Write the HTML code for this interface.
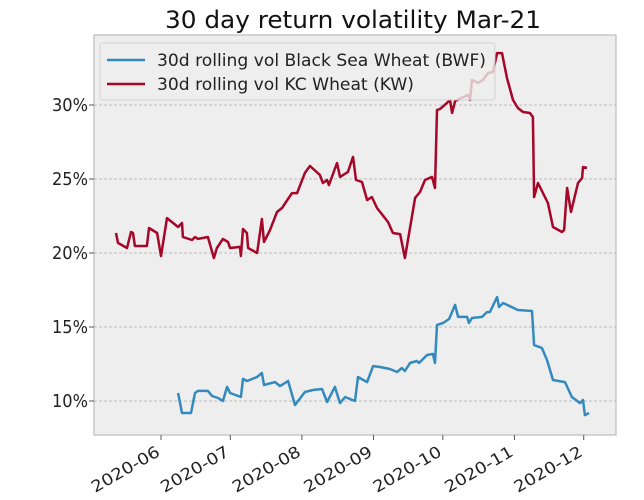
<!DOCTYPE html>
<html><head><meta charset="utf-8"><style>
body{margin:0;background:#fff;}
svg{display:block;font-family:"DejaVu Sans","Liberation Sans",sans-serif;}
</style></head><body>
<svg id="chart" width="644" height="500" viewBox="0 0 644 500" xmlns="http://www.w3.org/2000/svg">
<text x="165" y="28" font-size="24" textLength="376" lengthAdjust="spacingAndGlyphs" fill="#111">30 day return volatility Mar-21</text>
<rect x="94" y="35" width="522" height="400" fill="#eeeeee" stroke="#bcbcbc" stroke-width="1.2"/>
<g id="grid"></g><g id="yticks"></g><g id="xticks"></g><g id="series"></g>
<g id="legend">
<rect x="100" y="43" width="395" height="57" rx="3" fill="#eeeeee" fill-opacity="0.8" stroke="#cccccc" stroke-opacity="0.8"/>
<line x1="107" y1="60" x2="145" y2="60" stroke="#348ABD" stroke-width="2.5"/>
<text x="157" y="66" font-size="17" textLength="329" lengthAdjust="spacingAndGlyphs" fill="#222">30d rolling vol Black Sea Wheat (BWF)</text>
<line x1="107" y1="84" x2="145" y2="84" stroke="#A60628" stroke-width="2.5"/>
<text x="157" y="90" font-size="17" textLength="257" lengthAdjust="spacingAndGlyphs" fill="#222">30d rolling vol KC Wheat (KW)</text>
</g>
</svg>
<script>
// day offsets from 2020-06-01 and values (%)
const kwDays=[-19.5,-18.6,-14.7,-13.0,-12.1,-11.3,-6.1,-5.2,-1.7,0,2.6,7.4,9.1,9.5,13.4,14.7,16.0,20.3,22.9,24.2,26.8,29.0,29.9,34.2,34.6,35.5,37.2,37.7,41.6,43.7,44.6,47.2,50.2,52.4,56.7,58.9,62.3,64.5,68.8,70.1,71.9,72.7,76.2,77.5,80.9,83.1,84.4,87.0,89.2,91.3,93.5,98.3,100.4,103.5,105.6,110.0,112.1,114.3,117.3,118.6,119.5,120.8,123.8,125.1,126.0,127.3,132.9,133.8,134.6,137.2,139.4,141.6,143.7,145.5,147.6,149.8,152.4,154.5,156.7,159.7,161.0,161.5,163.2,167.5,169.7,173.6,174.5,175.8,177.5,180.5,182.3,182.7,184.4];
const kwVals=[21.35,20.68,20.34,21.42,21.35,20.47,20.47,21.69,21.35,19.8,22.36,21.76,22.03,21.08,20.88,21.08,20.95,21.08,19.66,20.34,20.95,20.74,20.34,20.41,19.8,21.62,21.35,20.34,20.0,22.3,20.74,21.55,22.77,23.04,24.05,24.05,25.41,25.88,25.27,24.73,24.93,24.59,26.08,25.14,25.47,26.49,24.93,24.8,23.58,23.78,23.04,22.09,21.35,21.28,19.66,23.72,24.12,24.93,25.14,24.39,29.66,29.73,30.14,30.34,29.46,30.27,30.68,30.34,31.69,31.49,31.69,32.16,32.23,33.51,33.51,31.82,30.34,29.8,29.53,29.46,29.19,23.78,24.73,23.38,21.76,21.42,21.55,24.39,22.77,24.73,25.07,25.81,25.74];
const bwfDays=[7.4,9.1,13.0,14.7,16.0,20.3,22.1,24.7,26.8,28.6,29.9,34.6,35.5,37.2,41.6,43.7,44.6,49.4,51.5,55.0,58.0,62.3,65.8,69.7,71.9,75.3,77.5,79.7,84.0,85.3,89.2,91.8,94.8,99.1,102.2,104.3,105.6,107.8,110.8,111.7,115.2,117.7,118.6,119.5,122.1,124.7,127.3,128.6,132.5,133.3,134.6,139.0,141.1,142.4,145.5,146.3,148.1,154.5,160.6,161.5,164.9,167.1,169.7,174.9,177.9,181.4,182.7,183.5,185.3];
const bwfVals=[10.54,9.19,9.19,10.54,10.68,10.68,10.34,10.2,10.0,10.95,10.54,10.27,11.49,11.35,11.62,11.89,11.08,11.28,11.01,11.35,9.73,10.61,10.74,10.81,9.93,10.95,9.86,10.27,10.0,11.62,11.28,12.36,12.3,12.16,11.96,12.23,12.03,12.57,12.7,12.57,13.11,13.18,12.57,15.14,15.27,15.54,16.49,15.68,15.68,15.27,15.61,15.68,16.01,16.01,17.03,16.35,16.62,16.15,16.08,13.78,13.58,12.77,11.42,11.28,10.27,9.86,10.07,9.05,9.19];
const yTicks=[10,15,20,25,30];
const xTickLabels=["2020-06","2020-07","2020-08","2020-09","2020-10","2020-11","2020-12"];
const xTickDays=[0,30,61,92,122,153,183];

const NS="http://www.w3.org/2000/svg";
const X=d=>161+d*2.31;
const Y=v=>401-(v-10)*14.8;
function mk(tag,attrs,parent){const e=document.createElementNS(NS,tag);for(const k in attrs)e.setAttribute(k,attrs[k]);parent.appendChild(e);return e;}
const grid=document.getElementById('grid'),yt=document.getElementById('yticks'),xt=document.getElementById('xticks'),ser=document.getElementById('series');
yTicks.forEach(v=>{
  const g=mk('line',{x1:94,x2:616,y1:Y(v),y2:Y(v),stroke:'#b0b0b0','stroke-width':0.8,'stroke-dasharray':'3,2'},grid);
  
  
  const t=mk('line',{x1:89,x2:94,y1:Y(v),y2:Y(v),stroke:'#555','stroke-width':1},yt);
  
  
  const l=mk('text',{x:88,y:Y(v)+6,'font-size':18,'text-anchor':'end',textLength:36,lengthAdjust:'spacingAndGlyphs',fill:'#222'},yt);
  
  
  l.textContent=v+'%';
});
xTickDays.forEach((d,i)=>{
  const x=X(d);
  const t=mk('line',{x1:x,x2:x,y1:435,y2:440,stroke:'#555','stroke-width':1},xt);
  
  
  const l=mk('text',{x:x,y:455,'font-size':16,'text-anchor':'end',textLength:76,lengthAdjust:'spacingAndGlyphs',fill:'#222',transform:`rotate(-30 ${x} 455)`},xt);
  
  
  l.textContent=xTickLabels[i];
});
function line(days,vals,color,name){
  const p=mk('polyline',{points:days.map((d,i)=>X(d).toFixed(1)+','+Y(vals[i]).toFixed(1)).join(' '),fill:'none',stroke:color,'stroke-width':2.5,'stroke-linejoin':'round'},ser);
  
  
}
line(bwfDays,bwfVals,'#348ABD','bwf-line');
line(kwDays,kwVals,'#A60628','kw-line');
</script>
</body></html>
